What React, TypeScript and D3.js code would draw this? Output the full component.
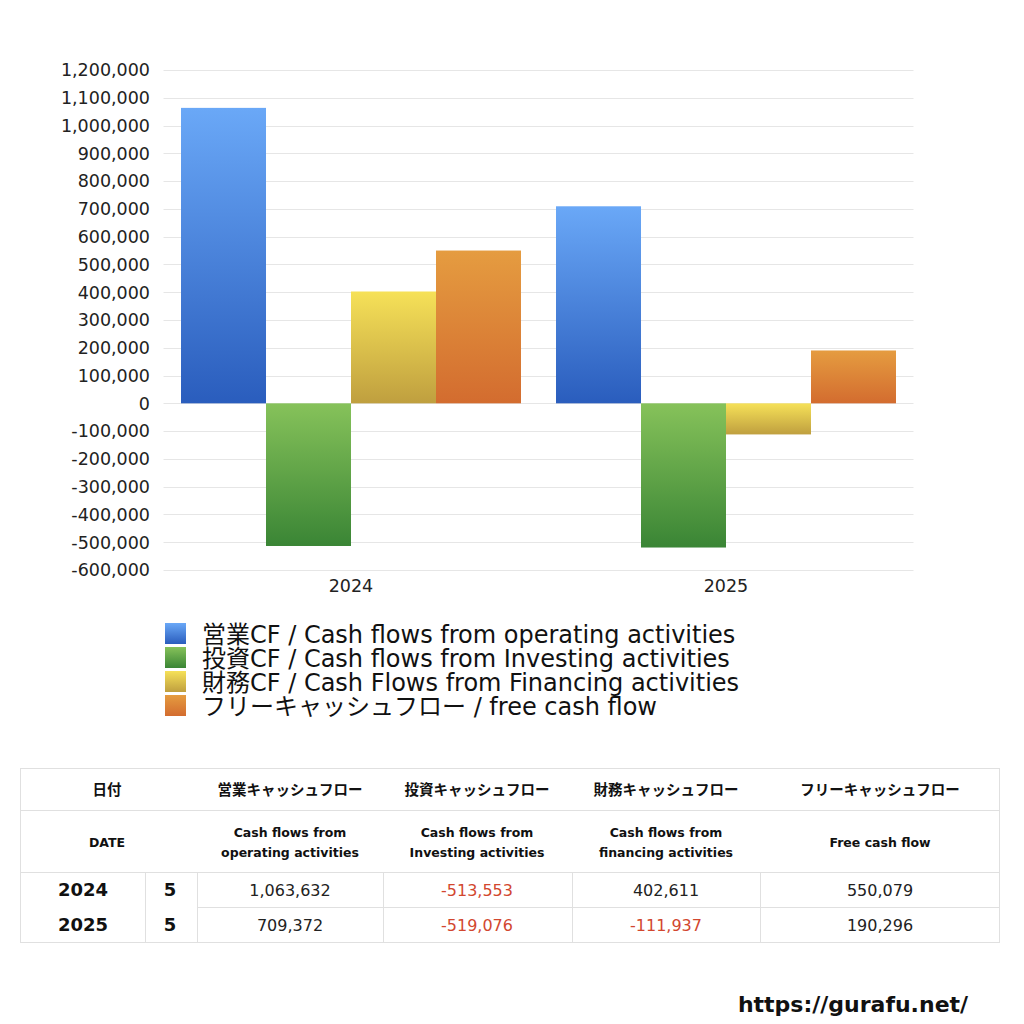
import { useEffect, useRef } from "react";
import * as d3 from "d3";

const years = ["2024", "2025"];
const months = ["5", "5"];
const operating = [1063632, 709372];
const investing = [-513553, -519076];
const financing = [402611, -111937];
const freeCash = [550079, 190296];

const seriesKeys = ["operating", "investing", "financing", "free"];
const seriesValues = [operating, investing, financing, freeCash];
const legendLabels = [
  "営業CF / Cash flows from operating activities",
  "投資CF / Cash flows from Investing activities",
  "財務CF / Cash Flows from Financing activities",
  "フリーキャッシュフロー / free cash flow",
];
const gradients: [string, string][] = [
  ["#6aa8f7", "#2a5dbd"],
  ["#86c25a", "#3a8535"],
  ["#f6e158", "#bf9f3f"],
  ["#e59c40", "#d36c2f"],
];

const yTicks = d3.range(-600000, 1200001, 100000);

const headerJa = ["日付", "営業キャッシュフロー", "投資キャッシュフロー", "財務キャッシュフロー", "フリーキャッシュフロー"];
const headerEn: string[][] = [
  ["DATE"],
  ["Cash flows from", "operating activities"],
  ["Cash flows from", "Investing activities"],
  ["Cash flows from", "financing activities"],
  ["Free cash flow"],
];

const FONT = "'DejaVu Sans', 'Noto Sans CJK JP', sans-serif";
const JA_FONT = "'Noto Sans CJK JP', sans-serif";

const fmt = d3
  .formatLocale({ decimal: ".", thousands: ",", grouping: [3], currency: ["", ""], minus: "-" })
  .format(",");

export default function App() {
  const svgRef = useRef<SVGSVGElement>(null);

  useEffect(() => {
    if (!svgRef.current) return;
    const svg = d3.select(svgRef.current);
    svg.selectAll("*").remove();

    const plotLeft = 163.5;
    const plotRight = 913.5;
    const y = d3.scaleLinear().domain([-600000, 1200000]).range([570, 70]);
    const x0 = d3.scaleBand().domain(years).range([plotLeft, plotRight]).padding(0);
    const x1 = d3
      .scaleBand()
      .domain(seriesKeys)
      .range([0, x0.bandwidth()])
      .paddingInner(0)
      .paddingOuter(0.206);

    const defs = svg.append("defs");
    gradients.forEach((g, i) => {
      const lg = defs
        .append("linearGradient")
        .attr("id", `grad${i}`)
        .attr("x1", 0)
        .attr("y1", 0)
        .attr("x2", 0)
        .attr("y2", 1);
      lg.append("stop").attr("offset", "0%").attr("stop-color", g[0]);
      lg.append("stop").attr("offset", "100%").attr("stop-color", g[1]);
    });

    // grid
    svg
      .append("g")
      .selectAll("line")
      .data(yTicks)
      .join("line")
      .attr("x1", plotLeft)
      .attr("x2", plotRight)
      .attr("y1", (d) => Math.round(y(d)) + 0.5)
      .attr("y2", (d) => Math.round(y(d)) + 0.5)
      .attr("stroke", "#e6e6e6")
      .attr("stroke-width", 1);

    // y labels
    svg
      .append("g")
      .selectAll("text")
      .data(yTicks)
      .join("text")
      .attr("x", 150)
      .attr("y", (d) => y(d))
      .attr("dy", "0.36em")
      .attr("text-anchor", "end")
      .attr("font-family", FONT)
      .attr("font-size", 17.5)
      .attr("fill", "#222")
      .text((d) => fmt(d));

    // bars
    years.forEach((yr, yi) => {
      seriesKeys.forEach((key, si) => {
        const v = seriesValues[si][yi];
        const top = y(Math.max(0, v));
        const bottom = y(Math.min(0, v));
        svg
          .append("rect")
          .attr("x", (x0(yr) ?? 0) + (x1(key) ?? 0))
          .attr("y", top)
          .attr("width", x1.bandwidth())
          .attr("height", bottom - top)
          .attr("fill", `url(#grad${si})`);
      });
    });

    // x labels
    svg
      .append("g")
      .selectAll("text")
      .data(years)
      .join("text")
      .attr("x", (d) => (x0(d) ?? 0) + x0.bandwidth() / 2)
      .attr("y", 586)
      .attr("dy", "0.36em")
      .attr("text-anchor", "middle")
      .attr("font-family", FONT)
      .attr("font-size", 17.5)
      .attr("fill", "#222")
      .text((d) => d);

    // legend
    const legend = svg.append("g").attr("transform", "translate(165,623)");
    legendLabels.forEach((label, i) => {
      const row = legend.append("g").attr("transform", `translate(0, ${i * 24})`);
      row.append("rect").attr("width", 21).attr("height", 21).attr("fill", `url(#grad${i})`);
      row
        .append("text")
        .attr("x", 37)
        .attr("y", 11)
        .attr("dy", "0.36em")
        .attr("font-family", FONT)
        .attr("font-size", 24)
        .attr("fill", "#111")
        .text(label);
    });

    // table
    const t = svg.append("g");
    const tL = 20.5;
    const tR = 999.5;
    const rows = [768.5, 810.5, 872.5, 907.5, 942.5];
    const colCenters = [107, 290, 477, 666, 880];
    const lineColor = "#e0e0e0";
    t.append("rect")
      .attr("x", tL)
      .attr("y", rows[0])
      .attr("width", tR - tL)
      .attr("height", rows[4] - rows[0])
      .attr("fill", "none")
      .attr("stroke", lineColor);
    [rows[1], rows[2]].forEach((ry) =>
      t.append("line").attr("x1", tL).attr("x2", tR).attr("y1", ry).attr("y2", ry).attr("stroke", lineColor)
    );
    t.append("line").attr("x1", 197.5).attr("x2", tR).attr("y1", rows[3]).attr("y2", rows[3]).attr("stroke", lineColor);
    [145.5, 197.5, 383.5, 572.5, 760.5].forEach((vx) =>
      t.append("line").attr("x1", vx).attr("x2", vx).attr("y1", rows[2]).attr("y2", rows[4]).attr("stroke", lineColor)
    );

    headerJa.forEach((h, i) => {
      t.append("text")
        .attr("x", colCenters[i])
        .attr("y", 790)
        .attr("dy", "0.36em")
        .attr("text-anchor", "middle")
        .attr("font-family", JA_FONT)
        .attr("font-weight", "bold")
        .attr("font-size", 14.5)
        .attr("fill", "#111")
        .text(h);
    });
    headerEn.forEach((lines, i) => {
      lines.forEach((ln, li) => {
        const cy = lines.length === 1 ? 842 : 832 + li * 20;
        t.append("text")
          .attr("x", colCenters[i])
          .attr("y", cy)
          .attr("dy", "0.36em")
          .attr("text-anchor", "middle")
          .attr("font-family", FONT)
          .attr("font-weight", "bold")
          .attr("font-size", 12.5)
          .attr("fill", "#111")
          .text(ln);
      });
    });

    const rowCenters = [890, 925];
    const valueCenters = [290, 477, 666, 880];
    years.forEach((yr, yi) => {
      t.append("text")
        .attr("x", 83)
        .attr("y", rowCenters[yi])
        .attr("dy", "0.36em")
        .attr("text-anchor", "middle")
        .attr("font-family", FONT)
        .attr("font-weight", "bold")
        .attr("font-size", 18)
        .attr("fill", "#111")
        .text(yr);
      t.append("text")
        .attr("x", 170)
        .attr("y", rowCenters[yi])
        .attr("dy", "0.36em")
        .attr("text-anchor", "middle")
        .attr("font-family", FONT)
        .attr("font-weight", "bold")
        .attr("font-size", 18)
        .attr("fill", "#111")
        .text(months[yi]);
      seriesValues.forEach((vals, si) => {
        const v = vals[yi];
        t.append("text")
          .attr("x", valueCenters[si])
          .attr("y", rowCenters[yi])
          .attr("dy", "0.36em")
          .attr("text-anchor", "middle")
          .attr("font-family", FONT)
          .attr("font-size", 16)
          .attr("fill", v < 0 ? "#d2472f" : "#222")
          .text(fmt(v));
      });
    });

    // footer
    svg
      .append("text")
      .attr("x", 853)
      .attr("y", 1004)
      .attr("dy", "0.36em")
      .attr("text-anchor", "middle")
      .attr("font-family", FONT)
      .attr("font-weight", "bold")
      .attr("font-size", 22)
      .attr("fill", "#111")
      .text("https://gurafu.net/");
  }, []);

  return (
    <svg
      ref={svgRef}
      width={1024}
      height={1024}
      viewBox="0 0 1024 1024"
      style={{ position: "absolute", left: 0, top: 0, background: "#fff" }}
    />
  );
}
